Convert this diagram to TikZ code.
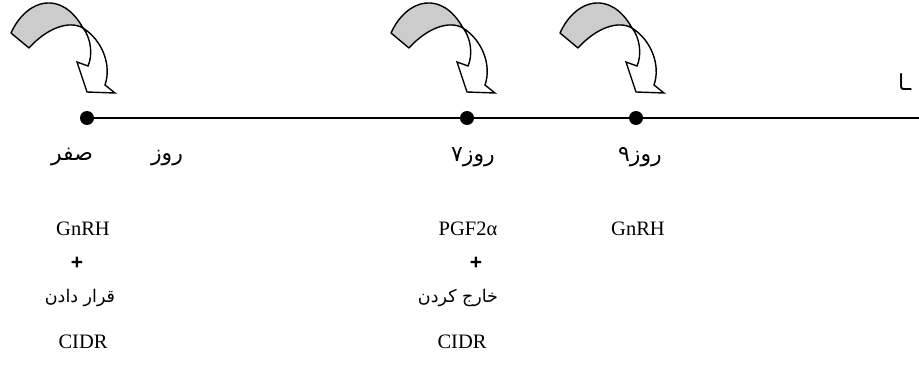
\documentclass[tikz,border=0pt]{standalone}
\usepackage{fontspec}
\setmainfont{Liberation Serif}
\newfontfamily\fa[Script=Arabic]{DejaVu Sans}
\newfontfamily\sansplus{Liberation Sans}
\TeXXeTstate=1
\newcommand\curvarrow[1]{%
  \begin{scope}[shift={(#1,0)}]
    \path[backband] (-76,33) .. controls (-60,-2) and (-25,-10) .. (-4,28)
      .. controls (-18,20) and (-40,28) .. (-58,48) -- cycle;
    \path[frontband] (-4,28) .. controls (15,40) and (25,65) .. (18,85)
      -- (28,93) -- (0,92) -- (-10,62) -- (1,66)
      .. controls (6,55) and (4,38) .. (-4,28) -- cycle;
  \end{scope}}
\begin{document}
\begin{tikzpicture}[x=1pt,y=-1pt,
  dot/.style={circle,fill=black,inner sep=0pt,minimum size=14pt},
  lat/.style={font=\fontsize{20.5}{20.5}\selectfont,inner sep=0pt,anchor=base},
  per/.style={font=\fa\fontsize{17.5}{17.5}\selectfont,inner sep=0pt},
  perbig/.style={font=\fa\fontsize{22}{22}\selectfont,inner sep=0pt},
  plus/.style={font=\sansplus\bfseries\fontsize{21}{21}\selectfont,inner sep=0pt},
  backband/.style={draw=black,line width=1.4pt,fill=black!20,line join=round},
  frontband/.style={draw=black,line width=1.4pt,fill=white,line join=miter}]
\useasboundingbox (0,0) rectangle (919,383);
\coordinate (d0c) at (87,118);
\coordinate (lineend) at (919,118);
\draw[line width=2.2pt] (d0c) -- (lineend);
\node[dot] (d0) at (87,118) {};
\node[dot] (d7) at (467,118) {};
\node[dot] (d9) at (636,118) {};
\curvarrow{87}
\curvarrow{467}
\curvarrow{636}
\node[perbig] (l0) at (117,157) {\beginR روز\hspace{58pt}صفر\endR};
\node[perbig] (l7) at (473,157) {\beginR روز۷\endR};
\node[perbig] (l9) at (640,157) {\beginR روز۹\endR};
\node[lat] (g0) at (83,235) {GnRH};
\node[plus] (p0) at (77,263) {+};
\node[per] (c0) at (80,298) {\beginR قرار دادن\endR};
\node[lat] (i0) at (83,348) {CIDR};
\node[lat] (g7) at (468,235) {PGF2α};
\node[plus] (p7) at (476,263) {+};
\node[per] (c7) at (458,298) {\beginR خارج کردن\endR};
\node[lat] (i7) at (462,348) {CIDR};
\node[lat] (g9) at (638,235) {GnRH};
\node[perbig,anchor=west] (tr) at (898,82) {\beginR ـا\endR};
\end{tikzpicture}
\end{document}
